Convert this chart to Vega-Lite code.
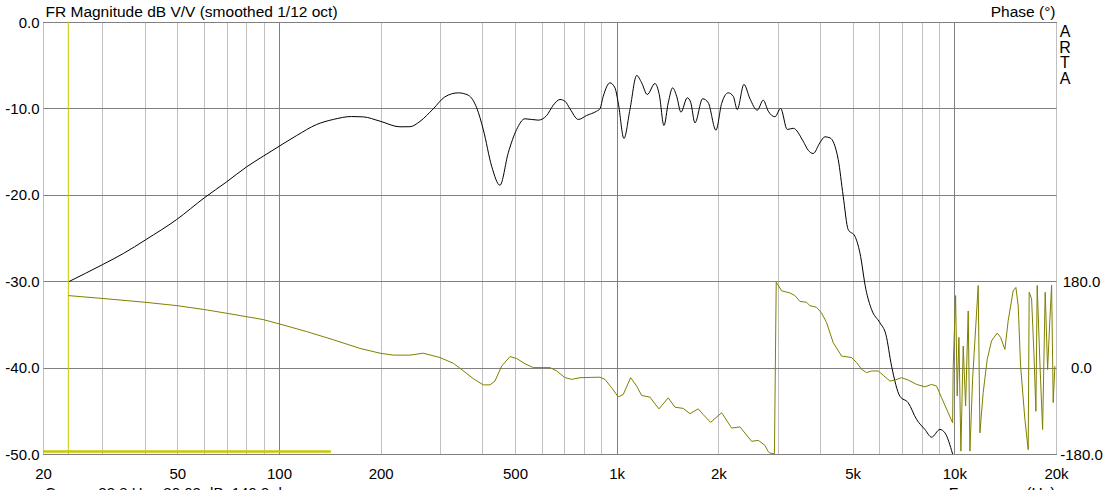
{
  "$schema": "https://vega.github.io/schema/vega-lite/v6.json",
  "width": 1013,
  "height": 432,
  "autosize": "none",
  "padding": {"left": 43, "top": 22, "right": 52, "bottom": 36},
  "background": "white",
  "config": {
    "font": "Liberation Sans",
    "view": {"stroke": "black", "strokeWidth": 1},
    "axis": {
      "labelFont": "Liberation Sans",
      "titleFont": "Liberation Sans",
      "labelFontSize": 15,
      "titleFontSize": 15.5,
      "labelColor": "black",
      "titleColor": "black",
      "titleFontWeight": "normal",
      "ticks": false,
      "tickSize": 0,
      "domain": false,
      "labelFlush": false,
      "labelOverlap": false,
      "labelBound": false
    }
  },
  "datasets": {
    "mag": [
      {"f": 23.8, "db": -30.07}, {"f": 30.05, "db": -28.07}, {"f": 34.58, "db": -26.8}, {"f": 40.29, "db": -25.2},
      {"f": 49.77, "db": -22.86}, {"f": 60.08, "db": -20.35}, {"f": 69.98, "db": -18.5}, {"f": 80.22, "db": -16.76},
      {"f": 89.81, "db": -15.53}, {"f": 100.2, "db": -14.37}, {"f": 112.8, "db": -13.14}, {"f": 129.3, "db": -11.86},
      {"f": 144.8, "db": -11.28}, {"f": 164.1, "db": -10.94}, {"f": 177.6, "db": -10.98}, {"f": 199.1, "db": -11.48},
      {"f": 228.1, "db": -12.13}, {"f": 244.2, "db": -12.12}, {"f": 261.5, "db": -11.5}, {"f": 286.3, "db": -10.05},
      {"f": 310, "db": -8.66}, {"f": 339.5, "db": -8.2}, {"f": 363.4, "db": -8.47}, {"f": 384.9, "db": -9.93},
      {"f": 402.6, "db": -12.44}, {"f": 426.3, "db": -16.69}, {"f": 451.1, "db": -18.89}, {"f": 477.4, "db": -15.14},
      {"f": 505.5, "db": -12.44}, {"f": 535, "db": -11.2}, {"f": 585.9, "db": -11.36}, {"f": 620.4, "db": -10.82},
      {"f": 648.9, "db": -9.63}, {"f": 679.3, "db": -8.97}, {"f": 702.9, "db": -9.17}, {"f": 727.3, "db": -10.05},
      {"f": 769.6, "db": -11.28}, {"f": 814.9, "db": -10.82}, {"f": 872.4, "db": -10.32}, {"f": 892.1, "db": -10.05},
      {"f": 912.5, "db": -8.59}, {"f": 955.1, "db": -7.04}, {"f": 988.2, "db": -7.62}, {"f": 1010.7, "db": -9.35},
      {"f": 1050.8, "db": -13.48}, {"f": 1094.7, "db": -10.13}, {"f": 1146, "db": -6.19}, {"f": 1185.7, "db": -7.04},
      {"f": 1231.8, "db": -8.39}, {"f": 1298.2, "db": -7.12}, {"f": 1336.8, "db": -8.39}, {"f": 1380.3, "db": -11.98},
      {"f": 1421.4, "db": -9.35}, {"f": 1464.7, "db": -7.62}, {"f": 1505.2, "db": -8.59}, {"f": 1550, "db": -10.44},
      {"f": 1618, "db": -8.77}, {"f": 1655.9, "db": -9.28}, {"f": 1705.2, "db": -11.67}, {"f": 1797.1, "db": -8.88},
      {"f": 1867, "db": -9.35}, {"f": 1967.7, "db": -12.52}, {"f": 2045.7, "db": -9.43}, {"f": 2139.9, "db": -8.2},
      {"f": 2214.1, "db": -8.59}, {"f": 2275.3, "db": -10.13}, {"f": 2381.6, "db": -7.23}, {"f": 2481.1, "db": -8.88},
      {"f": 2607.7, "db": -10.21}, {"f": 2716.6, "db": -9.05}, {"f": 2810.8, "db": -10.32}, {"f": 2942.2, "db": -10.97},
      {"f": 3058.8, "db": -10.0}, {"f": 3199.6, "db": -12.44}, {"f": 3333.2, "db": -12.3}, {"f": 3567.1, "db": -13.8},
      {"f": 3690.8, "db": -14.84}, {"f": 3818.8, "db": -15.22}, {"f": 3997.2, "db": -13.98}, {"f": 4136, "db": -13.29},
      {"f": 4279.5, "db": -13.4}, {"f": 4529, "db": -15.91}, {"f": 4686, "db": -20.16}, {"f": 4848.5, "db": -24.02},
      {"f": 5075.2, "db": -24.79}, {"f": 5251.3, "db": -26.71}, {"f": 5470.5, "db": -30.96}, {"f": 5687.3, "db": -33.28},
      {"f": 6018.4, "db": -34.81}, {"f": 6270, "db": -36.17}, {"f": 6518.4, "db": -39.84}, {"f": 6898, "db": -43.31},
      {"f": 7300, "db": -44.07}, {"f": 7730, "db": -46.0}, {"f": 8180, "db": -47.16}, {"f": 8562, "db": -48.05},
      {"f": 9062, "db": -47.16}, {"f": 9376, "db": -47.55}, {"f": 9881, "db": -50.0}
    ],
    "phase": [
      {"f": 23.8, "deg": 150}, {"f": 30.05, "deg": 144}, {"f": 40.29, "deg": 136}, {"f": 49.97, "deg": 129},
      {"f": 60.08, "deg": 121}, {"f": 70.27, "deg": 113}, {"f": 80.22, "deg": 106}, {"f": 89.81, "deg": 100},
      {"f": 100.2, "deg": 91}, {"f": 120.8, "deg": 75}, {"f": 144.8, "deg": 58}, {"f": 173.7, "deg": 40},
      {"f": 199.1, "deg": 30}, {"f": 217.9, "deg": 26}, {"f": 244.2, "deg": 26}, {"f": 267.4, "deg": 30},
      {"f": 299.6, "deg": 21}, {"f": 328.1, "deg": 9}, {"f": 343, "deg": -1}, {"f": 376.1, "deg": -23},
      {"f": 402.6, "deg": -36}, {"f": 421.4, "deg": -36}, {"f": 436, "deg": -28}, {"f": 456.3, "deg": 3},
      {"f": 483, "deg": 23}, {"f": 505.5, "deg": 19}, {"f": 535, "deg": 8}, {"f": 566.2, "deg": 0},
      {"f": 634.5, "deg": 0}, {"f": 664.2, "deg": -7}, {"f": 702.9, "deg": -21}, {"f": 735.8, "deg": -24.5},
      {"f": 778.6, "deg": -21}, {"f": 892.1, "deg": -20}, {"f": 923.2, "deg": -24.5}, {"f": 966.2, "deg": -42},
      {"f": 1010.7, "deg": -61}, {"f": 1045.8, "deg": -56}, {"f": 1100, "deg": -21}, {"f": 1146, "deg": -38.5},
      {"f": 1185.7, "deg": -58}, {"f": 1254.7, "deg": -61.5}, {"f": 1334, "deg": -86}, {"f": 1421.4, "deg": -63},
      {"f": 1487.8, "deg": -82.5}, {"f": 1574.4, "deg": -85}, {"f": 1648, "deg": -96}, {"f": 1743.9, "deg": -86},
      {"f": 1804.6, "deg": -98}, {"f": 1897.9, "deg": -114}, {"f": 2045.7, "deg": -94}, {"f": 2190, "deg": -126},
      {"f": 2317.5, "deg": -123.5}, {"f": 2509.9, "deg": -153.6}, {"f": 2625.5, "deg": -151.5}, {"f": 2748.3, "deg": -162},
      {"f": 2810.8, "deg": -175}, {"f": 2843.5, "deg": -178}, {"f": 2932, "deg": -179.5}, {"f": 2968, "deg": 178},
      {"f": 3079.6, "deg": 160}, {"f": 3259, "deg": 155.5}, {"f": 3371, "deg": 150}, {"f": 3488, "deg": 138},
      {"f": 3651, "deg": 136}, {"f": 3734, "deg": 129}, {"f": 3908, "deg": 125.6}, {"f": 4044, "deg": 113.6},
      {"f": 4184, "deg": 94}, {"f": 4377, "deg": 52}, {"f": 4636, "deg": 24}, {"f": 4962, "deg": 21},
      {"f": 5134, "deg": 10.5}, {"f": 5312, "deg": -3.5}, {"f": 5497, "deg": -10.5}, {"f": 5687, "deg": -7},
      {"f": 5949, "deg": -7}, {"f": 6156, "deg": -16}, {"f": 6443, "deg": -28}, {"f": 6666, "deg": -26},
      {"f": 6979, "deg": -21}, {"f": 7300, "deg": -26}, {"f": 7730, "deg": -35}, {"f": 8180, "deg": -40},
      {"f": 8562, "deg": -35}, {"f": 8860, "deg": -38.5}, {"f": 9168, "deg": -63}, {"f": 9590, "deg": -94},
      {"f": 9881, "deg": -115}, {"f": 9922, "deg": 3}, {"f": 10086, "deg": 150}, {"f": 10197, "deg": -59},
      {"f": 10316, "deg": 63}, {"f": 10457, "deg": -174}, {"f": 10623, "deg": 45}, {"f": 10798, "deg": -80},
      {"f": 10991, "deg": 118}, {"f": 11119, "deg": -174}, {"f": 11325, "deg": -24}, {"f": 11583, "deg": 91},
      {"f": 11766, "deg": 171}, {"f": 11903, "deg": -136}, {"f": 12174, "deg": -52}, {"f": 12511, "deg": 17},
      {"f": 12891, "deg": 56}, {"f": 13393, "deg": 72}, {"f": 13707, "deg": 63}, {"f": 14115, "deg": 38},
      {"f": 14436, "deg": 98}, {"f": 14937, "deg": 160}, {"f": 15214, "deg": 167}, {"f": 15455, "deg": 129},
      {"f": 15710, "deg": 3}, {"f": 16178, "deg": -108}, {"f": 16546, "deg": -171}, {"f": 16659, "deg": 157},
      {"f": 16934, "deg": 143}, {"f": 17202, "deg": 31}, {"f": 17438, "deg": -91}, {"f": 17593, "deg": 171},
      {"f": 17920, "deg": 10}, {"f": 18253, "deg": -129}, {"f": 18579, "deg": 157}, {"f": 18886, "deg": -4},
      {"f": 19185, "deg": 101}, {"f": 19409, "deg": 172}, {"f": 19622, "deg": -73}, {"f": 19850, "deg": 3}
    ],
    "cursor": [{"f": 23.77}],
    "bar": [{"f1": 20, "f2": 142.5, "db": -49.71}],
    "brand": [{"label": "A\nR\nT\nA"}],
    "status": [{"label": "Cursor: 23.8 Hz, -30.03 dB, 149.9 deg"}]
  },
  "layer": [
    {
      "data": {"name": "mag"},
      "mark": {"type": "line", "color": "black", "strokeWidth": 1, "interpolate": "monotone", "clip": true},
      "encoding": {
        "x": {
          "field": "f", "type": "quantitative",
          "scale": {"type": "log", "domain": [20, 20000], "nice": false},
          "axis": {
            "values": [20, 30, 40, 50, 60, 70, 80, 90, 100, 200, 300, 400, 500, 600, 700, 800, 900, 1000, 2000, 3000, 4000, 5000, 6000, 7000, 8000, 9000, 10000, 20000],
            "grid": true,
            "gridColor": {"condition": {"test": "datum.value == 100 || datum.value == 1000 || datum.value == 10000", "value": "#808080"}, "value": "#c0c0c0"},
            "gridOpacity": 1,
            "gridWidth": 1,
            "labelExpr": "indexof([20,50,100,200,500,1000,2000,5000,10000,20000], datum.value) >= 0 ? (datum.value >= 1000 ? (datum.value / 1000) + 'k' : '' + datum.value) : ''",
            "labelPadding": 12,
            "labelAlign": "center",
            "title": "Frequency (Hz)",
            "titleX": 1012,
            "titleY": 31,
            "titleAlign": "right",
            "titleAnchor": null,
            "titleBaseline": "top"
          }
        },
        "y": {
          "field": "db", "type": "quantitative",
          "scale": {"domain": [-50, 0], "nice": false, "zero": false},
          "axis": {
            "values": [-50, -40, -30, -20, -10, 0],
            "grid": true,
            "gridColor": "#808080",
            "gridOpacity": 1,
            "labelExpr": "datum.value == 0 ? '0.0' : datum.value + '.0'",
            "labelPadding": 4,
            "title": "FR Magnitude dB V/V (smoothed 1/12 oct)",
            "titleAngle": 0,
            "titleAlign": "left",
            "titleAnchor": null,
            "titleBaseline": "alphabetic",
            "titleX": 2,
            "titleY": -5.5
          }
        }
      }
    },
    {
      "data": {"name": "cursor"},
      "mark": {"type": "rule", "color": "#c8c800", "strokeWidth": 1},
      "encoding": {
        "x": {"field": "f", "type": "quantitative"}
      }
    },
    {
      "data": {"name": "bar"},
      "mark": {"type": "rule", "color": "#c8c800", "strokeWidth": 2.5},
      "encoding": {
        "x": {"field": "f1", "type": "quantitative"},
        "x2": {"field": "f2"},
        "y": {"field": "db", "type": "quantitative", "scale": {"domain": [-50, 0], "nice": false, "zero": false}, "axis": null}
      }
    },
    {
      "data": {"name": "phase"},
      "mark": {"type": "line", "color": "#808000", "strokeWidth": 1, "clip": true},
      "encoding": {
        "x": {"field": "f", "type": "quantitative"},
        "y": {
          "field": "deg", "type": "quantitative",
          "scale": {"domain": [-180, 180], "range": [432, 259.2], "nice": false, "zero": false},
          "axis": {
            "orient": "right",
            "values": [-180, 0, 180],
            "grid": false,
            "labelAlign": "center",
            "labelPadding": 25,
            "labelExpr": "datum.value == 0 ? '0.0' : datum.value + '.0'",
            "title": "Phase (°)",
            "titleAngle": 0,
            "titleAlign": "right",
            "titleAnchor": null,
            "titleBaseline": "alphabetic",
            "titleX": -1,
            "titleY": -5.5
          }
        }
      }
    },
    {
      "data": {"name": "brand"},
      "mark": {"type": "text", "align": "center", "baseline": "top", "dx": 9, "dy": 2, "lineBreak": "\n", "lineHeight": 15.7, "fontSize": 16, "font": "Liberation Sans", "color": "black", "clip": false},
      "encoding": {
        "x": {"datum": 20000, "type": "quantitative"},
        "y": {"datum": 0, "type": "quantitative", "scale": {"domain": [-50, 0], "nice": false, "zero": false}, "axis": null},
        "text": {"field": "label"}
      }
    },
    {
      "data": {"name": "status"},
      "mark": {"type": "text", "align": "left", "baseline": "top", "dx": 2, "dy": 31.6, "fontSize": 15, "font": "Liberation Sans", "color": "black", "clip": false},
      "encoding": {
        "x": {"datum": 20, "type": "quantitative"},
        "y": {"datum": -50, "type": "quantitative", "scale": {"domain": [-50, 0], "nice": false, "zero": false}, "axis": null},
        "text": {"field": "label"}
      }
    }
  ],
  "resolve": {"scale": {"y": "independent"}}
}
